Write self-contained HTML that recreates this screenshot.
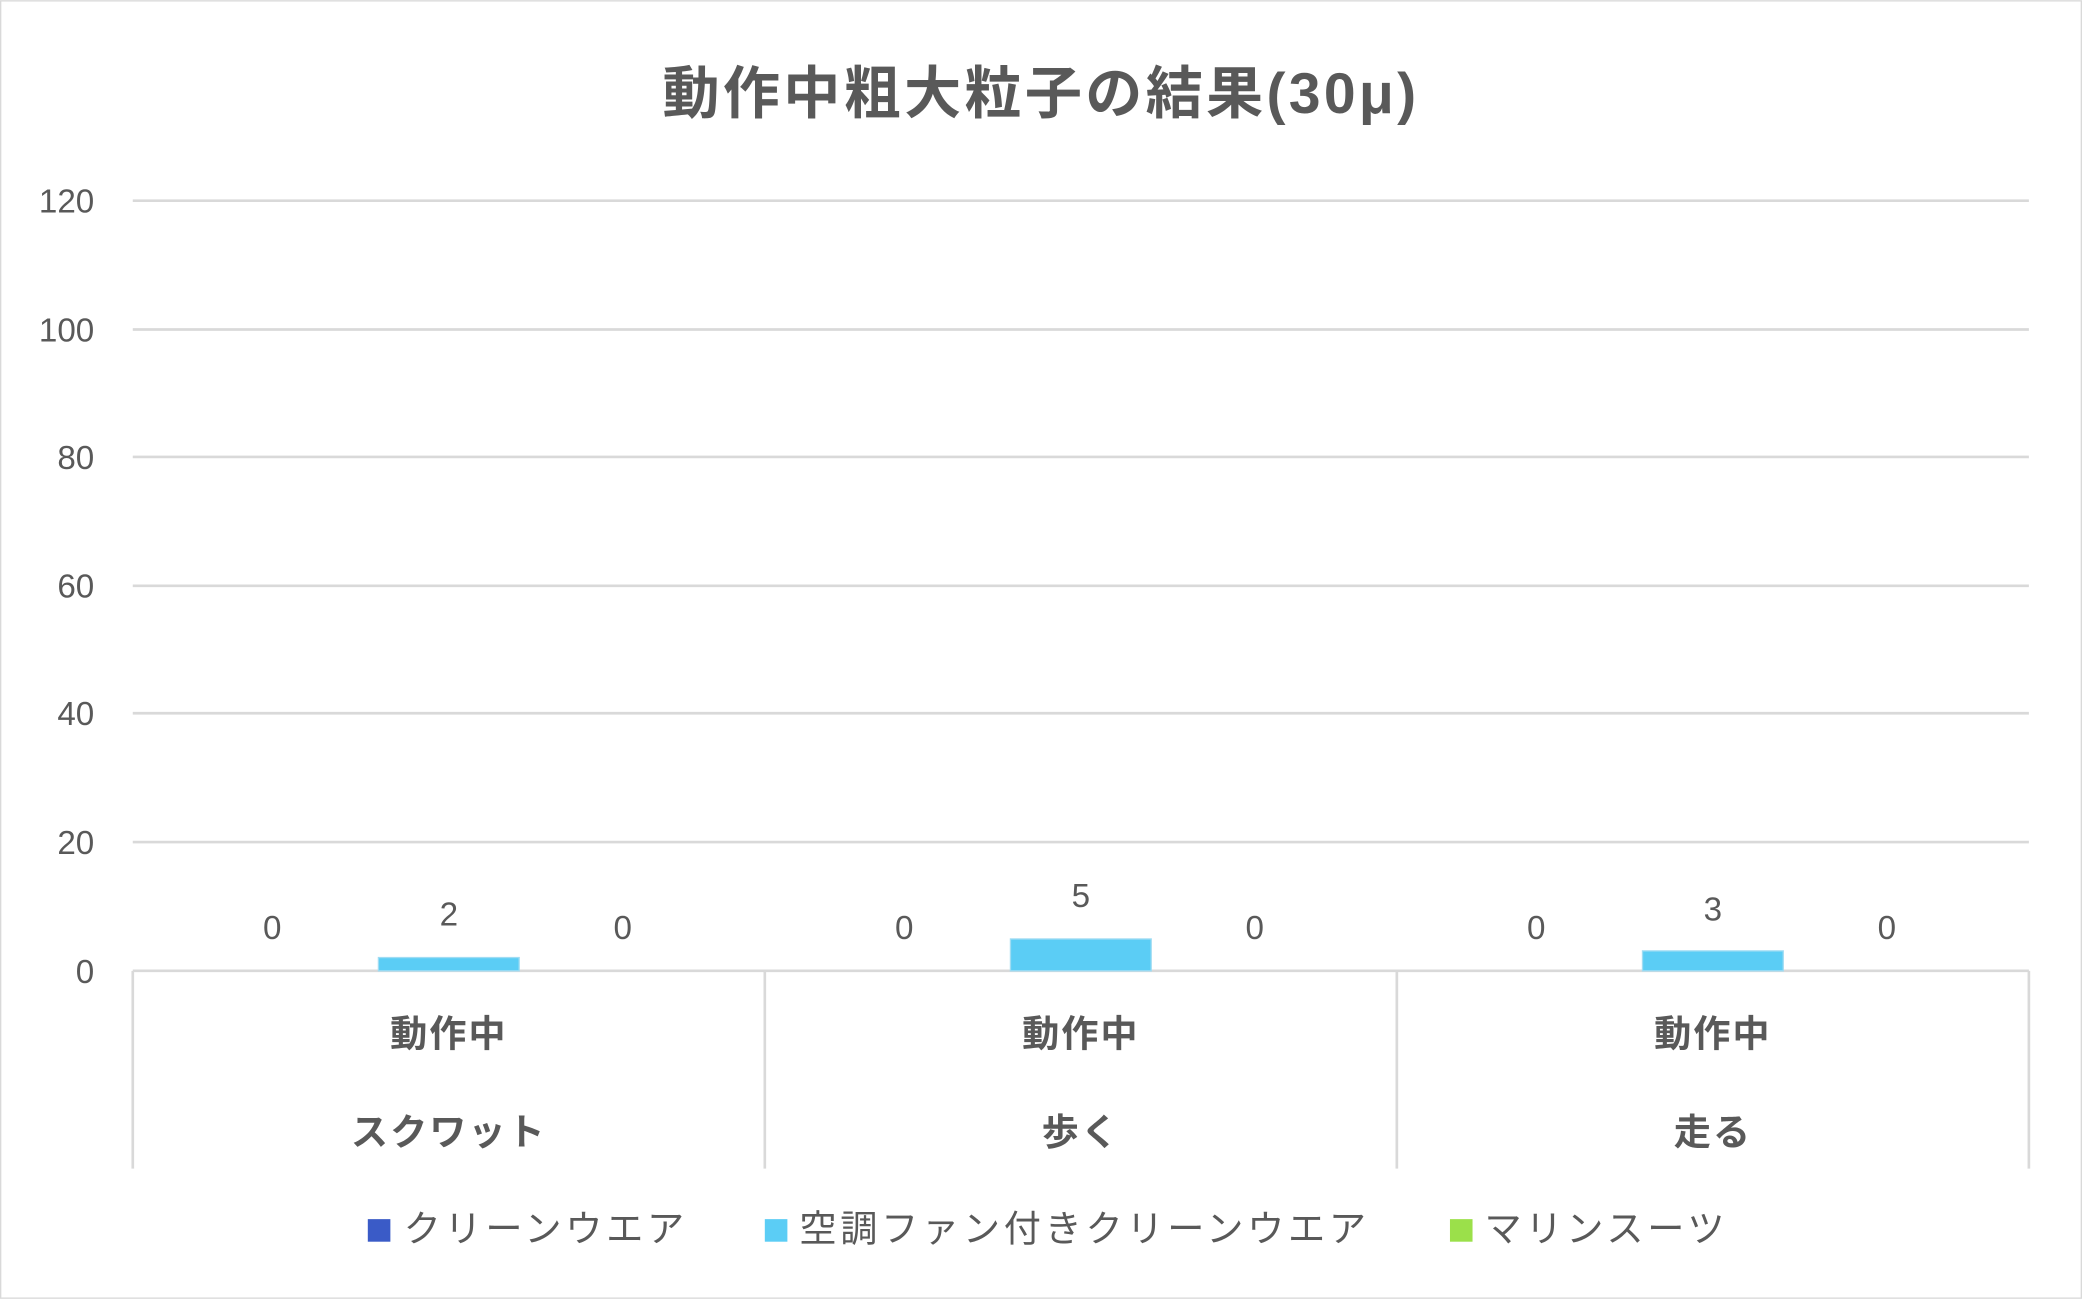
<!DOCTYPE html>
<html><head><meta charset="utf-8"><style>
html,body{margin:0;padding:0;background:#fff;}
svg{display:block;}
text{font-family:"Liberation Sans","Noto Sans CJK JP",sans-serif;fill:#595959;}
</style></head><body>
<svg width="2082" height="1299" viewBox="0 0 1568 978" xmlns="http://www.w3.org/2000/svg">
<rect x="0.5" y="0.5" width="1567" height="977" fill="#fff" stroke="#d9d9d9"/>
<text x="784" y="85" font-size="43" font-weight="bold" text-anchor="middle" letter-spacing="2.5">動作中粗大粒子の結果(30μ)</text>
<g stroke="#d9d9d9" stroke-width="2">
<line x1="100" y1="151" x2="1528" y2="151"/>
<line x1="100" y1="248" x2="1528" y2="248"/>
<line x1="100" y1="344" x2="1528" y2="344"/>
<line x1="100" y1="441" x2="1528" y2="441"/>
<line x1="100" y1="537" x2="1528" y2="537"/>
<line x1="100" y1="634" x2="1528" y2="634"/>
<line x1="100" y1="731" x2="1528" y2="731"/>
<line x1="100" y1="731" x2="100" y2="880"/>
<line x1="576" y1="731" x2="576" y2="880"/>
<line x1="1052" y1="731" x2="1052" y2="880"/>
<line x1="1528" y1="731" x2="1528" y2="880"/>
</g>
<g font-size="25" text-anchor="end">
<text x="71" y="160">120</text><text x="71" y="257">100</text><text x="71" y="353">80</text>
<text x="71" y="450">60</text><text x="71" y="546">40</text><text x="71" y="643">20</text><text x="71" y="740">0</text>
</g>
<g fill="#5bcdf5" stroke="#9fdcf3" stroke-width="1">
<rect x="285" y="721" width="106" height="10"/>
<rect x="761" y="707" width="106" height="24"/>
<rect x="1237" y="716" width="106" height="15"/>
</g>
<g font-size="25" text-anchor="middle">
<text x="205" y="707">0</text><text x="338" y="697">2</text><text x="469" y="707">0</text>
<text x="681" y="707">0</text><text x="814" y="683">5</text><text x="945" y="707">0</text>
<text x="1157" y="707">0</text><text x="1290" y="693">3</text><text x="1421" y="707">0</text>
</g>
<g font-size="28" font-weight="bold" text-anchor="middle" letter-spacing="1.5">
<text x="338" y="788">動作中</text><text x="338" y="862">スクワット</text>
<text x="814" y="788">動作中</text><text x="814" y="862">歩く</text>
<text x="1290" y="788">動作中</text><text x="1290" y="862">走る</text>
</g>
<g font-size="28" letter-spacing="2.8">
<rect x="277" y="918" width="17" height="17" fill="#3a5bc7"/>
<text x="304" y="935">クリーンウエア</text>
<rect x="576" y="918" width="17" height="17" fill="#5bcdf5"/>
<text x="602" y="935">空調ファン付きクリーンウエア</text>
<rect x="1092" y="918" width="17" height="17" fill="#9be04a"/>
<text x="1118" y="935">マリンスーツ</text>
</g>
</svg>
</body></html>
